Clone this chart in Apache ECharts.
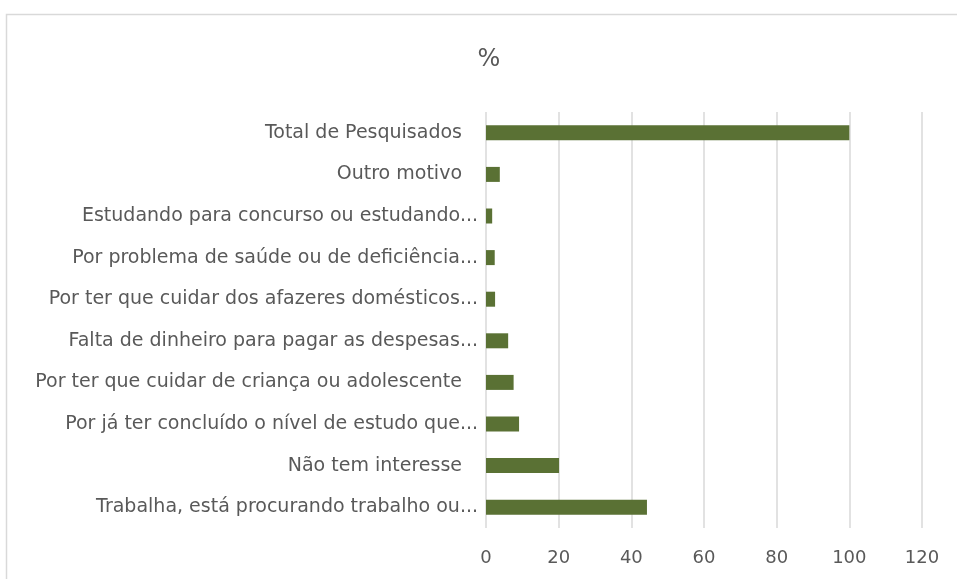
<!DOCTYPE html>
<html>
<head>
<meta charset="utf-8">
<script src="https://cdn.jsdelivr.net/npm/echarts@6/dist/echarts.min.js"></script>
<style>
  html, body { margin: 0; padding: 0; background: #fff; }
  #chart { width: 957px; height: 579px; }
</style>
</head>
<body>
<div id="chart"></div>
<script>
// categories, bottom to top (as in the source sheet)
const categories = [
  'Trabalha, está procurando trabalho ou...',
  'Não tem interesse',
  'Por já ter concluído o nível de estudo que...',
  'Por ter que cuidar de criança ou adolescente',
  'Falta de dinheiro para pagar as despesas...',
  'Por ter que cuidar dos afazeres domésticos...',
  'Por problema de saúde ou de deficiência...',
  'Estudando para concurso ou estudando...',
  'Outro motivo',
  'Total de Pesquisados'
]
const percent = [44.3, 20.1, 9.1, 7.6, 6.1, 2.5, 2.4, 1.7, 3.8, 100]
const xTicks = [0, 20, 40, 60, 80, 100, 120]

const chart = echarts.init(document.getElementById('chart'))

const labelColor = '#595959'
const font = "'DejaVu Sans'"

chart.setOption({
  animation: false,
  title: {
    text: '%',
    left: 484,
    top: 43,
    textAlign: 'center',
    textStyle: { fontFamily: font, fontSize: 24, fontWeight: 'normal', color: labelColor }
  },
  graphic: [{
    type: 'rect',
    shape: { x: 6.5, y: 14.5, width: 1000, height: 1000 },
    style: { fill: 'none', stroke: '#d9d9d9', lineWidth: 1.5 },
    silent: true
  }],
  grid: { left: 486, right: 35, top: 112, bottom: 51 },
  xAxis: {
    type: 'value',
    min: xTicks[0],
    max: xTicks[xTicks.length - 1],
    interval: 20,
    axisLine: { show: false },
    axisTick: { show: false },
    splitLine: { lineStyle: { color: '#d9d9d9', width: 1.5 } },
    axisLabel: { margin: 21, fontFamily: font, fontSize: 18, color: labelColor }
  },
  yAxis: {
    type: 'category',
    data: categories,
    axisLine: { show: false },
    axisTick: { show: false },
    axisLabel: {
      margin: 8,
      fontFamily: font,
      fontSize: 19,
      color: labelColor,
      formatter: (v) => v.endsWith('...') ? v : '{p|' + v + '}',
      rich: {
        p: { fontFamily: font, fontSize: 19, color: labelColor, padding: [0, 16, 0, 0] }
      }
    }
  },
  series: [{
    type: 'bar',
    data: percent,
    barWidth: 15,
    itemStyle: { color: '#5a7134' }
  }]
})
</script>
</body>
</html>
